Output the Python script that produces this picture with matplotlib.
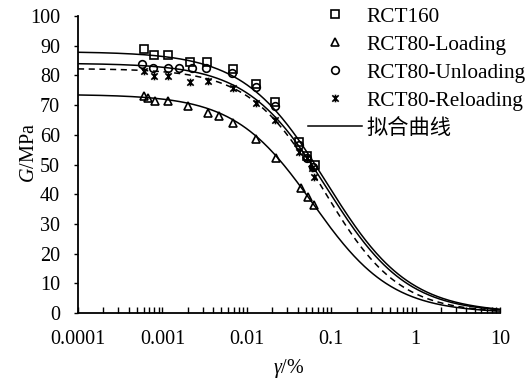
import numpy as np
import matplotlib
matplotlib.use('Agg')
import matplotlib.pyplot as plt
from matplotlib.path import Path

plt.rcParams['font.family'] = ['Liberation Serif', 'Noto Sans CJK SC']
plt.rcParams['mathtext.fontset'] = 'custom'
plt.rcParams['mathtext.rm'] = 'Liberation Serif'
plt.rcParams['mathtext.it'] = 'Liberation Serif:italic'

size = 14.5

# measured points (strain in %, G in MPa)
rct160_x = [0.00061, 0.0008, 0.00117, 0.00213, 0.0034, 0.0068, 0.0128, 0.0213, 0.042, 0.052, 0.065]
rct160_y = [88.9, 86.9, 86.9, 84.4, 84.6, 82.2, 77.2, 71.1, 57.5, 53.0, 49.8]

load_x = [0.00061, 0.00068, 0.00082, 0.00117, 0.00201, 0.0035, 0.0047, 0.0068, 0.0129, 0.0219, 0.0433, 0.0534, 0.0621]
load_y = [73.1, 72.3, 71.5, 71.5, 69.7, 67.4, 66.3, 64.1, 58.6, 52.1, 42.0, 39.2, 36.4]

unload_x = [0.00057, 0.00077, 0.00115, 0.00158, 0.00227, 0.00329, 0.0066, 0.0127, 0.0213, 0.041, 0.052, 0.061]
unload_y = [83.7, 82.6, 82.4, 82.4, 82.4, 82.4, 80.7, 76.0, 69.8, 56.6, 52.2, 49.2]

reload_x = [0.00061, 0.0008, 0.00117, 0.00213, 0.0035, 0.0068, 0.0129, 0.0213, 0.041, 0.052, 0.0595, 0.063]
reload_y = [81.6, 79.9, 79.9, 77.9, 78.0, 75.8, 70.8, 65.0, 54.3, 52.1, 48.7, 45.9]

# fitted curve parameters: G0, reference strain, exponent
# order: RCT160, Loading, Unloading, Reloading
fit_G0 = [88.0, 73.6, 84.1, 82.3]
fit_gr = [0.0876, 0.0608, 0.0887, 0.0823]
fit_beta = [0.89, 0.93, 0.918, 0.984]
fit_style = ['-', '-', '-', '--']

xticks = [0.0001, 0.001, 0.01, 0.1, 1, 10]
xticklabels = ['0.0001', '0.001', '0.01', '0.1', '1', '10']
yticks = list(range(0, 101, 10))


def fitCurve(g, G0, gr, beta):
    return G0 / (1 + (g / gr) ** beta)


# excel style star: x with a vertical bar
star = Path([(-1, -1), (1, 1), (-1, 1), (1, -1), (0, -1.2), (0, 1.2)],
            [Path.MOVETO, Path.LINETO, Path.MOVETO, Path.LINETO, Path.MOVETO, Path.LINETO])

fig = plt.figure(figsize=(5.31, 3.81), dpi=100)
ax = fig.add_axes([78 / 531, 1 - 313 / 381, 422 / 531, 297 / 381])

g = np.logspace(-4, 1, 400)
for G0, gr, beta, ls in zip(fit_G0, fit_gr, fit_beta, fit_style):
    ax.plot(g, fitCurve(g, G0, gr, beta), color='black', lw=1.1, ls=ls,
            dashes=(4, 3) if ls == '--' else (None, None))

mk = dict(linestyle='', color='black', mfc='none', mew=1.2)
ax.plot(rct160_x, rct160_y, marker='s', ms=5.5, label='RCT160', **mk)
ax.plot(load_x, load_y, marker='^', ms=6, label='RCT80-Loading', **mk)
ax.plot(unload_x, unload_y, marker='o', ms=5.5, label='RCT80-Unloading', **mk)
ax.plot(reload_x, reload_y, marker=star, ms=5.5, label='RCT80-Reloading', **mk)
ax.plot([], [], color='black', lw=1.1, label='拟合曲线')

ax.set_xscale('log')
ax.set_xlim(0.0001, 10)
ax.set_ylim(0, 100)
ax.set_xticks(xticks)
ax.set_xticklabels(xticklabels)
ax.set_yticks(yticks)

ax.spines['top'].set_visible(False)
ax.spines['right'].set_visible(False)
for s in ['left', 'bottom']:
    ax.spines[s].set_linewidth(1.3)

ax.tick_params(axis='x', which='both', direction='in', length=4, width=1, labelsize=size, pad=12)
ax.tick_params(axis='y', direction='out', length=3, width=1, labelsize=size, pad=10)

ax.set_xlabel(r'$\gamma$/%', fontsize=size, labelpad=6)
ax.set_ylabel(r'$G$/MPa', fontsize=size)
ax.yaxis.set_label_coords(-0.092, 0.54)

ax.legend(loc='upper left', bbox_to_anchor=(308 / 531, 1 - 7 / 381), bbox_transform=fig.transFigure,
          frameon=False, fontsize=15.3, borderpad=0, borderaxespad=0, handlelength=2.55,
          handletextpad=0.2, labelspacing=0.38)

fig.savefig('out.png', dpi=100)
